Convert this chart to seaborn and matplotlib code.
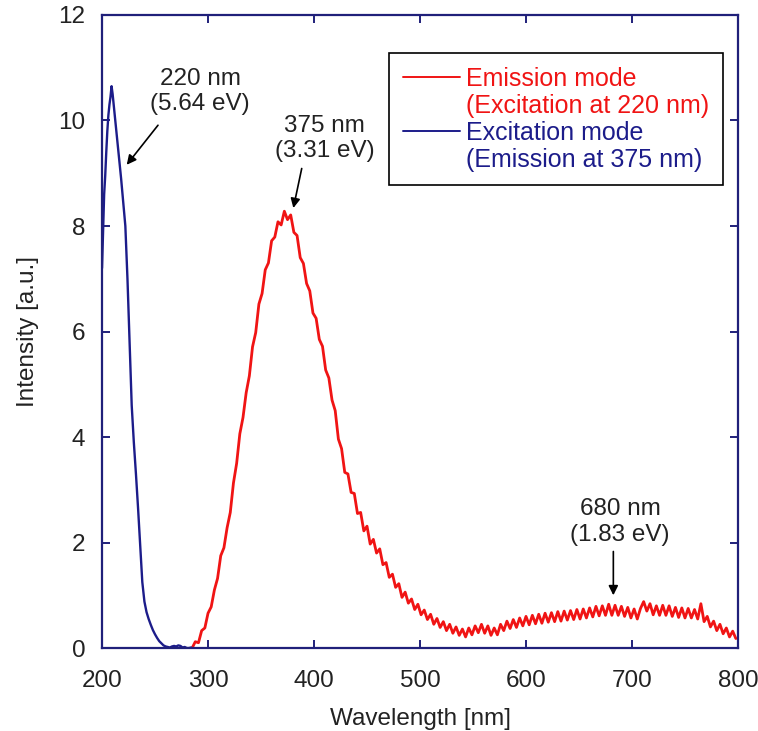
import numpy as np
import pandas as pd
import matplotlib
matplotlib.use("Agg")
import matplotlib.pyplot as plt
from matplotlib.lines import Line2D
import seaborn as sns

# Excitation spectrum (emission monitored at 375 nm)
exc_wavelength = [200, 201, 202, 203, 204, 205, 206, 207, 208, 209, 210, 211, 212,
                  214, 216, 218, 220, 222, 224, 226, 228, 230, 232, 234, 236, 238,
                  240, 242, 244, 246, 248, 250, 252, 254, 256, 258, 260, 262, 264,
                  266, 268, 270, 272, 274, 276, 278, 280, 282, 284]
exc_intensity = [7.2, 7.9, 8.6, 8.95, 9.4, 9.8, 10.1, 10.3, 10.45, 10.65, 10.5, 10.3, 10.1,
                 9.7, 9.3, 8.9, 8.45, 8.0, 7.0, 5.8, 4.6, 3.9, 3.3, 2.65, 1.95, 1.25,
                 0.88, 0.68, 0.55, 0.44, 0.34, 0.26, 0.19, 0.13, 0.09, 0.05, 0.03, 0.02, 0.01,
                 0.03, 0.04, 0.03, 0.05, 0.04, 0.01, 0.02, 0.0, 0.0, 0.01]

# Emission spectrum (excitation at 220 nm), sampled every 3 nm from 285 nm
em_start, em_step = 285, 3
em_intensity = [
    0.00, 0.12, 0.10, 0.33, 0.38, 0.66, 0.78, 1.10, 1.32, 1.75,
    1.90, 2.28, 2.57, 3.13, 3.50, 4.06, 4.37, 4.84, 5.16, 5.71,
    5.98, 6.52, 6.72, 7.17, 7.30, 7.72, 7.79, 8.08, 8.02, 8.28,
    8.12, 8.21, 7.88, 7.82, 7.40, 7.29, 6.91, 6.77, 6.35, 6.25,
    5.85, 5.72, 5.27, 5.12, 4.70, 4.50, 3.96, 3.78, 3.33, 3.30,
    2.95, 2.93, 2.55, 2.57, 2.22, 2.31, 1.97, 2.06, 1.80, 1.88,
    1.58, 1.62, 1.34, 1.40, 1.15, 1.22, 0.96, 1.06, 0.85, 0.93,
    0.73, 0.83, 0.63, 0.72, 0.54, 0.64, 0.45, 0.56, 0.39, 0.50,
    0.33, 0.45, 0.28, 0.40, 0.24, 0.36, 0.21, 0.38, 0.25, 0.42,
    0.29, 0.45, 0.28, 0.42, 0.24, 0.38, 0.25, 0.45, 0.33, 0.51,
    0.37, 0.54, 0.39, 0.57, 0.42, 0.60, 0.44, 0.62, 0.46, 0.64,
    0.47, 0.66, 0.49, 0.67, 0.50, 0.69, 0.51, 0.70, 0.53, 0.71,
    0.54, 0.73, 0.55, 0.74, 0.57, 0.76, 0.59, 0.79, 0.61, 0.80,
    0.62, 0.83, 0.62, 0.81, 0.62, 0.79, 0.60, 0.77, 0.57, 0.74,
    0.55, 0.75, 0.88, 0.70, 0.84, 0.63, 0.80, 0.62, 0.81, 0.62,
    0.80, 0.60, 0.77, 0.58, 0.76, 0.57, 0.75, 0.57, 0.73, 0.55,
    0.84, 0.50, 0.60, 0.40, 0.51, 0.33, 0.45, 0.27, 0.38, 0.21,
    0.32, 0.18,
]
em_wavelength = em_start + em_step * np.arange(len(em_intensity))

# Peak annotations: label, text centre, arrow tail, arrow tip (data units)
peak_labels = ["220 nm\n(5.64 eV)", "375 nm\n(3.31 eV)", "680 nm\n(1.83 eV)"]
peak_text = [(292.5, 10.55), (410.0, 9.66), (688.7, 2.39)]
peak_tails = [(252.8, 9.91), (388.4, 9.09), (682.4, 1.83)]
peak_tips = [(223.3, 9.16), (380.5, 8.34), (682.4, 1.0)]

x_ticks = [200, 300, 400, 500, 600, 700, 800]
y_ticks = [0, 2, 4, 6, 8, 10, 12]

RED = "#f01414"
NAVY = "#1c1c8a"
FRAME = "#20207a"
TEXT = "#222222"
FS = 17.5

sns.set_theme(style="white")
plt.rcParams["font.family"] = ["Liberation Sans", "DejaVu Sans"]

fig = plt.figure(figsize=(7.58, 7.31), dpi=100)
ax = fig.add_axes([0.1346, 0.1135, 0.8390, 0.8660])

em_df = pd.DataFrame({"Wavelength": em_wavelength, "Intensity": em_intensity})
exc_df = pd.DataFrame({"Wavelength": exc_wavelength, "Intensity": exc_intensity})

sns.lineplot(data=em_df, x="Wavelength", y="Intensity", ax=ax, color=RED,
             lw=2.0, estimator=None, sort=False)
sns.lineplot(data=exc_df, x="Wavelength", y="Intensity", ax=ax, color=NAVY,
             lw=1.7, estimator=None, sort=False)

ax.set_xlim(200, 800)
ax.set_ylim(0, 12)
ax.set_xticks(x_ticks)
ax.set_yticks(y_ticks)
ax.set_xlabel("Wavelength [nm]", fontsize=FS, color=TEXT, labelpad=11)
ax.set_ylabel("Intensity [a.u.]", fontsize=FS, color=TEXT, labelpad=14)

for s in ax.spines.values():
    s.set_visible(True)
    s.set_color(FRAME)
    s.set_linewidth(1.6)
ax.tick_params(axis="both", which="both", direction="in", length=6, width=1.4,
               color=FRAME, labelcolor=TEXT, labelsize=FS, top=True, right=True,
               bottom=True, left=True)
ax.tick_params(axis="x", pad=16)
ax.tick_params(axis="y", pad=12)

for label, txt, tail, tip in zip(peak_labels, peak_text, peak_tails, peak_tips):
    ax.text(txt[0], txt[1], label, ha="center", va="center", fontsize=FS,
            color=TEXT, linespacing=1.2)
    ax.annotate("", xy=tip, xytext=tail,
                arrowprops=dict(arrowstyle="-|>", color="black", lw=1.2,
                                mutation_scale=14, shrinkA=0, shrinkB=0))

blank = Line2D([], [], color="none")
handles = [Line2D([], [], color=RED, lw=1.4), blank,
           Line2D([], [], color=NAVY, lw=1.4), blank]
labels = ["Emission mode", "(Excitation at 220 nm)",
          "Excitation mode", "(Emission at 375 nm)"]
leg = ax.legend(handles, labels, loc="upper right", bbox_to_anchor=(0.977, 0.940),
                fontsize=18, frameon=True, fancybox=False, framealpha=1,
                edgecolor="black", handlelength=2.3, handletextpad=0.25,
                labelspacing=0.12, borderpad=0.55, borderaxespad=0)
leg.get_frame().set_linewidth(1.2)
for t, c in zip(leg.get_texts(), [RED, RED, NAVY, NAVY]):
    t.set_color(c)

fig.savefig("out.png", dpi=100, facecolor="white")
